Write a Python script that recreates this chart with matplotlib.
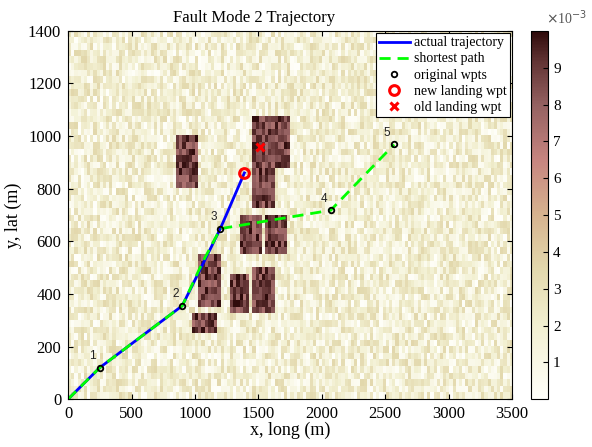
import numpy as np
import matplotlib
matplotlib.use("Agg")
import matplotlib.pyplot as plt
from matplotlib.colors import LinearSegmentedColormap

plt.rcParams['font.family'] = ['Liberation Serif', 'DejaVu Serif']

# waypoints (x, y) in metres
wpt_x = [0, 250, 900, 1200, 2070, 2570]
wpt_y = [0, 120, 355, 648, 718, 968]
wpt_labels = ['1', '2', '3', '4', '5']

# flown path ends at the new landing waypoint
actual_x = [0, 250, 900, 1200, 1390]
actual_y = [0, 120, 355, 648, 860]

# shortest path through the remaining waypoints
short_x = [0, 250, 900, 1060, 1200, 2070, 2570]
short_y = [0, 120, 355, 520, 648, 718, 968]

new_landing = (1390, 860)
old_landing = (1515, 960)

# obstacle blocks: x0, x1, y0, y1
obstacles = [
    (850, 1025, 800, 1000),
    (1450, 1750, 875, 1075),
    (1450, 1625, 725, 875),
    (1350, 1525, 550, 700),
    (1550, 1725, 550, 700),
    (1025, 1200, 350, 550),
    (1275, 1425, 325, 475),
    (1450, 1625, 325, 500),
    (975, 1175, 250, 325),
]

# cost map on 25 m cells
cell = 25
xmax, ymax = 3500, 1400
nx, ny = xmax // cell, ymax // cell
rng = np.random.default_rng(7)
cost = rng.uniform(0.0, 0.0036, size=(ny, nx))
xc = (np.arange(nx) + 0.5) * cell
yc = (np.arange(ny) + 0.5) * cell
XX, YY = np.meshgrid(xc, yc)
for x0, x1, y0, y1 in obstacles:
    m = (XX >= x0) & (XX <= x1) & (YY >= y0) & (YY <= y1)
    cost[m] = rng.uniform(0.0072, 0.0100, size=m.sum())

cmap = LinearSegmentedColormap.from_list('cost', [
    (0.0, (1.0, 1.0, 0.98)),
    (0.2, (0.95, 0.94, 0.82)),
    (0.35, (0.89, 0.85, 0.68)),
    (0.5, (0.84, 0.70, 0.56)),
    (0.65, (0.78, 0.52, 0.50)),
    (0.8, (0.58, 0.38, 0.38)),
    (0.92, (0.38, 0.20, 0.20)),
    (1.0, (0.18, 0.04, 0.04)),
])

fig = plt.figure(figsize=(5.92, 4.47), dpi=100)
ax = fig.add_axes([0.115, 0.107, 0.75, 0.824])
cax = fig.add_axes([0.897, 0.107, 0.029, 0.824])

im = ax.imshow(cost, origin='lower', extent=[0, xmax, 0, ymax], aspect='auto',
               cmap=cmap, vmin=0, vmax=0.01, interpolation='nearest')

ax.plot(actual_x, actual_y, color='#0000ff', lw=2, label='actual trajectory')
ax.plot(short_x, short_y, color='#00ff00', lw=2, ls=(0, (4, 2.5)), label='shortest path')
ax.plot(wpt_x[1:], wpt_y[1:], 'o', mfc='none', mec='black', mew=1.3, ms=4,
        label='original wpts')
ax.plot(*new_landing, 'o', mfc='none', mec='red', mew=2.2, ms=7, label='new landing wpt')
ax.plot(*old_landing, 'x', color='red', mew=2.2, ms=6, label='old landing wpt')

for lab, x, y in zip(wpt_labels, wpt_x[1:], wpt_y[1:]):
    ax.annotate(lab, (x, y), xytext=(-5, 4), textcoords='offset points',
                fontsize=8.5, family='Liberation Sans', color='#222222',
                ha='center', va='bottom')

ax.set_xlim(0, xmax)
ax.set_ylim(0, ymax)
ax.set_xticks(np.arange(0, 3501, 500))
ax.set_yticks(np.arange(0, 1401, 200))
ax.tick_params(direction='in', labelsize=12, top=True, right=True, pad=5)
ax.set_xlabel('x, long (m)', fontsize=13, labelpad=0)
ax.set_ylabel('y, lat (m)', fontsize=13, labelpad=4)
ax.text(0.42, 1.012, 'Fault Mode 2 Trajectory', transform=ax.transAxes,
        ha='center', va='bottom', fontsize=12)

leg = ax.legend(loc='upper right', fontsize=10, framealpha=1, fancybox=False,
                edgecolor='black', borderpad=0.25, labelspacing=0.22,
                handlelength=2.2, handletextpad=0.3, borderaxespad=0.15)
leg.get_frame().set_linewidth(0.8)

cb = fig.colorbar(im, cax=cax)
cb.set_ticks(np.arange(1, 10) * 1e-3)
cb.set_ticklabels([str(i) for i in range(1, 10)])
cb.ax.tick_params(labelsize=11, direction='in')
cb.outline.set_linewidth(0.8)
cax.text(0.9, 1.01, r'$\times$10$^{-3}$', transform=cax.transAxes,
         ha='left', va='bottom', fontsize=10, color='#555555')

fig.savefig('out.png', dpi=100)
